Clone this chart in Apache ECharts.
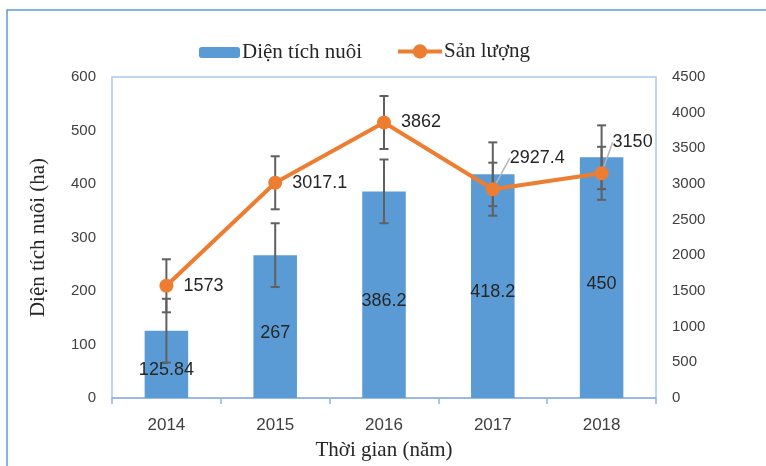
<!DOCTYPE html>
<html><head><meta charset="utf-8">
<script src="https://cdn.jsdelivr.net/npm/echarts@6/dist/echarts.min.js"></script>
<style>html,body{margin:0;padding:0;background:#fff}#c{width:766px;height:466px}</style>
</head><body><div id="c"></div>
<script>
const categories = ['2014','2015','2016','2017','2018'];
const areaValues = [125.84, 267, 386.2, 418.2, 450];
const outputValues = [1573, 3017.1, 3862, 2927.4, 3150];
const areaErrors = [59.6, 59.6, 59.6, 59.6, 59.6];
const outputErrors = [371.7, 371.7, 371.7, 371.7, 371.7];
const leftTicks = {min: 0, max: 600, interval: 100};
const rightTicks = {min: 0, max: 4500, interval: 500};

const serif = '"Liberation Serif","Times New Roman",serif';
const sans = '"Liberation Sans",Arial,sans-serif';

function errData(vals, errs) {
  return vals.map((v, i) => [i, v - errs[i], v + errs[i]]);
}
function errRender(params, api) {
  const x = api.value(0);
  const lo = api.coord([x, api.value(1)]);
  const hi = api.coord([x, api.value(2)]);
  const w = 4.5;
  const st = {stroke: '#606060', lineWidth: 2};
  return {type: 'group', children: [
    {type: 'line', shape: {x1: lo[0], y1: lo[1], x2: hi[0], y2: hi[1]}, style: st},
    {type: 'line', shape: {x1: lo[0]-w, y1: lo[1], x2: lo[0]+w, y2: lo[1]}, style: st},
    {type: 'line', shape: {x1: hi[0]-w, y1: hi[1], x2: hi[0]+w, y2: hi[1]}, style: st}
  ]};
}
// labels of the last two points are moved up and get a leader line
const lineData = outputValues.map((v, i) => ({value: v, labelLine: {show: i >= 3}}));

const legendText = {fontFamily: serif, fontSize: 21, color: '#262626', padding: [0, 0, 0, -3]};
const chart = echarts.init(document.getElementById('c'));
chart.setOption({
  animation: false,
  graphic: [{type: 'rect', shape: {x: 7, y: 10, width: 800, height: 500}, style: {fill: 'none', stroke: '#5B9BD5', lineWidth: 1.5}, z: -1}],
  legend: [{
    data: ['Diện tích nuôi'],
    left: 194, top: 37,
    itemWidth: 41, itemHeight: 11,
    textStyle: legendText
  }, {
    data: ['Sản lượng'],
    left: 391, top: 36,
    itemWidth: 44, itemHeight: 18,
    lineStyle: {width: 4},
    textStyle: legendText
  }],
  grid: {left: 112, right: 110, top: 77, bottom: 68, show: true, borderColor: '#A9C9EA', borderWidth: 1.5, containLabel: false, outerBoundsMode: 'none'},
  xAxis: {
    type: 'category', data: categories,
    name: 'Thời gian (năm)', nameLocation: 'middle', nameGap: 42,
    nameTextStyle: {fontFamily: serif, fontSize: 21, color: '#262626'},
    axisLine: {lineStyle: {color: '#8DB4E0', width: 1.5}},
    axisTick: {show: true, length: 6, lineStyle: {color: '#8DB4E0', width: 1.5}},
    axisLabel: {fontFamily: sans, fontSize: 17, color: '#404040', margin: 19}
  },
  yAxis: [{
    type: 'value', min: leftTicks.min, max: leftTicks.max, interval: leftTicks.interval,
    name: 'Diện tích nuôi (ha)', nameLocation: 'middle', nameGap: 63,
    nameTextStyle: {fontFamily: serif, fontSize: 21, color: '#262626'},
    axisLine: {show: false}, axisTick: {show: false}, splitLine: {show: false},
    axisLabel: {fontFamily: sans, fontSize: 15, color: '#404040', margin: 16}
  }, {
    type: 'value', min: rightTicks.min, max: rightTicks.max, interval: rightTicks.interval,
    axisLine: {show: false}, axisTick: {show: false}, splitLine: {show: false},
    axisLabel: {fontFamily: sans, fontSize: 15, color: '#404040', margin: 16, formatter: v => String(v)}
  }],
  series: [{
    name: 'Diện tích nuôi', type: 'bar', data: areaValues, barWidth: '40%', yAxisIndex: 0,
    itemStyle: {color: '#5B9BD5'},
    label: {show: true, position: 'inside', offset: [0, 6], fontFamily: sans, fontSize: 18, color: '#262626'},
    z: 2
  }, {
    name: 'barErr', type: 'custom', yAxisIndex: 0, data: errData(areaValues, areaErrors),
    renderItem: errRender, z: 3, silent: true
  }, {
    name: 'lineErr', type: 'custom', yAxisIndex: 1, data: errData(outputValues, outputErrors),
    renderItem: errRender, z: 4, silent: true
  }, {
    name: 'Sản lượng', type: 'line', data: lineData, yAxisIndex: 1,
    lineStyle: {color: '#ED7D31', width: 4},
    itemStyle: {color: '#ED7D31'},
    symbol: 'circle', symbolSize: 14,
    label: {show: true, position: 'right', distance: 10, fontFamily: sans, fontSize: 18, color: '#262626'},
    labelLine: {show: false, lineStyle: {color: '#B5B5B5', width: 1.5}},
    labelLayout: function (p) {
      if (p.dataIndex === 3) return {dy: -31};
      if (p.dataIndex === 4) return {dx: -6, dy: -31};
      return {};
    },
    z: 5
  }]
});
</script></body></html>
